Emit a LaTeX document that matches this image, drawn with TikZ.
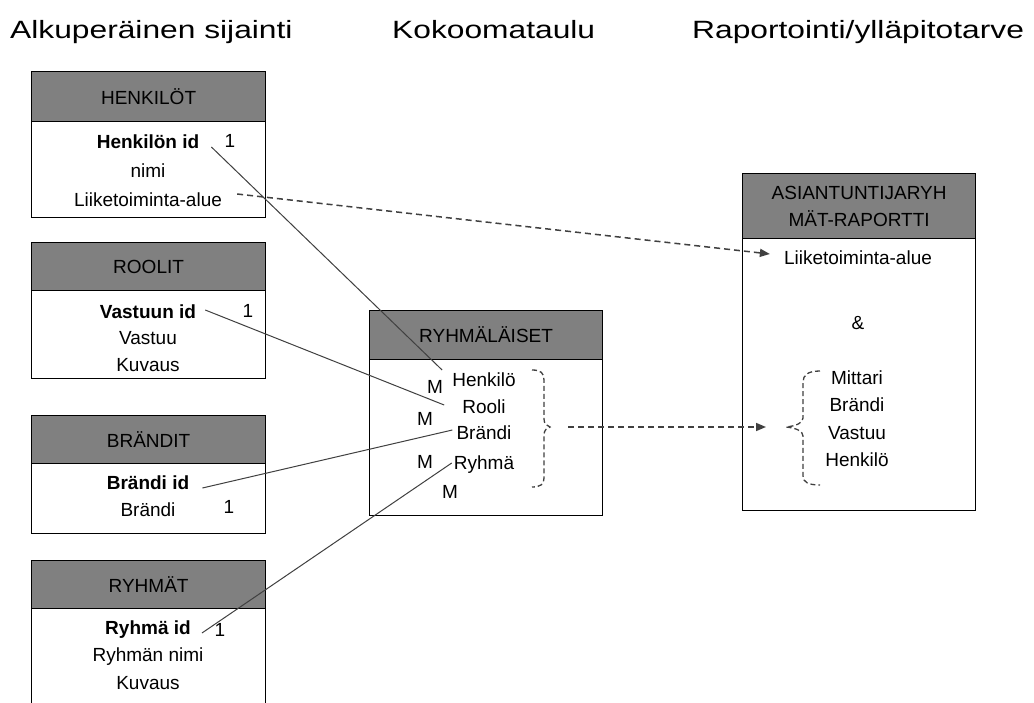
\documentclass[tikz,border=0pt]{standalone}
\usepackage{fontspec}
\setmainfont{Liberation Sans}
\newfontfamily\titlefont{Liberation Sans}[FakeStretch=1.27]
\usetikzlibrary{arrows.meta}
\definecolor{hdr}{HTML}{808080}
\definecolor{lnk}{HTML}{404040}
\begin{document}
\begin{tikzpicture}[x=1pt,y=-1pt,
  txt/.style={font=\fontsize{19}{22}\selectfont, inner sep=2pt},
  bold/.style={font=\fontsize{19}{22}\selectfont\bfseries, inner sep=2pt},
  ttl/.style={font=\titlefont\fontsize{25}{30}\selectfont, inner sep=0pt, anchor=base west},
  hbox/.style={draw=black, fill=hdr, line width=1.2pt, anchor=north west, minimum width=234pt, font=\fontsize{19}{27}\selectfont, align=center, inner sep=0pt},
  bbox/.style={draw=black, fill=white, line width=1.2pt, anchor=north west, minimum width=234pt, inner sep=0pt},
  rel/.style={draw=lnk, line width=1pt},
  flow/.style={draw=lnk, line width=1.5pt, dash pattern=on 6pt off 4pt},
  tip/.style={-{Triangle[length=10pt,width=8pt]}}
]
\useasboundingbox (0,0) rectangle (1034,702);
\clip (0,0) rectangle (1034,702);
\fill[white] (0,0) rectangle (1034,702);

% titles
\node[ttl] (t1) at (10,38) {Alkuperäinen sijainti};
\node[ttl] (t2) at (392,38) {Kokoomataulu};
\node[ttl] (t3) at (692,38) {Raportointi/ylläpitotarve};

% HENKILÖT
\node[bbox, minimum height=96pt] (b1) at (31,121) {};
\node[hbox, minimum height=50pt] (h1) at (31,71) {HENKILÖT};
\node[bold] (hid) at (148,142) {Henkilön id};
\node[txt] (hone) at (230,141) {1};
\node[txt] (hnimi) at (148,171) {nimi};
\node[txt] (hlii) at (148,200) {Liiketoiminta-alue};

% ROOLIT
\node[bbox, minimum height=88pt] (b2) at (31,290) {};
\node[hbox, minimum height=48pt] (h2) at (31,242) {ROOLIT};
\node[bold] (vid) at (148,312) {Vastuun id};
\node[txt] (vone) at (248,311) {1};
\node[txt] (vvas) at (148,338) {Vastuu};
\node[txt] (vkuv) at (148,365) {Kuvaus};

% BRÄNDIT
\node[bbox, minimum height=70pt] (b3) at (31,463) {};
\node[hbox, minimum height=48pt] (h3) at (31,415) {BRÄNDIT};
\node[bold] (bid) at (148,483) {Brändi id};
\node[txt] (bone) at (229,507) {1};
\node[txt] (bbr) at (148,510) {Brändi};

% RYHMÄT
\node[bbox, minimum height=112pt] (b4) at (31,608) {};
\node[hbox, minimum height=48pt] (h4) at (31,560) {RYHMÄT};
\node[bold] (rid) at (148,630) {Ryhmä id};
\node[txt] (rone) at (220,630) {1};
\node[txt] (rnimi) at (148,657) {Ryhmän nimi};
\node[txt] (rkuv) at (148,683) {Kuvaus};

% RYHMÄLÄISET
\node[bbox, minimum width=233pt, minimum height=156pt] (b5) at (369,359) {};
\node[hbox, minimum width=233pt, minimum height=49pt] (h5) at (369,310) {RYHMÄLÄISET};
\node[txt] (mhenk) at (484,380) {Henkilö};
\node[txt] (mrooli) at (484,407) {Rooli};
\node[txt] (mbr) at (484,433) {Brändi};
\node[txt] (mry) at (484,465) {Ryhmä};
\node[txt] (m1) at (435,387) {M};
\node[txt] (m2) at (425,419) {M};
\node[txt] (m3) at (425,462) {M};
\node[txt] (m4) at (450,492) {M};

% ASIANTUNTIJARYHMÄT-RAPORTTI
\node[bbox, minimum width=233pt, minimum height=272pt] (b6) at (742,238) {};
\node[hbox, minimum width=233pt, minimum height=65pt] (h6) at (742,173) {ASIANTUNTIJARYH\\MÄT-RAPORTTI};
\node[txt] (rlii) at (858,258) {Liiketoiminta-alue};
\node[txt] (ramp) at (858,323) {\&};
\node[txt] (rmit) at (857,378) {Mittari};
\node[txt] (rbr) at (857,405) {Brändi};
\node[txt] (rvas) at (857,433) {Vastuu};
\node[txt] (rhenk) at (857,460) {Henkilö};

% relations
\draw[rel] ([shift={(10,5)}]hid.east) -- ([shift={(-8,-10)}]mhenk.west);
\draw[rel] ([shift={(7,-2)}]vid.east) -- ([shift={(-16,-2)}]mrooli.west);
\draw[rel] ([shift={(11,5)}]bid.east) -- ([shift={(-2,-3)}]mbr.west);
\draw[rel] ([shift={(9,3)}]rid.east) -- ([shift={(0,-2)}]mry.west);

% braces
\coordinate (mtip) at (550,427);
\coordinate (rtip) at (786,427);
\draw[flow, line width=1.3pt, dash pattern=on 5pt off 3pt]
  (532,370) .. controls (541,370) and (544,373) .. (544,380) -- (544,419)
  .. controls (544,424) and (547,426) .. (mtip)
  .. controls (547,428) and (544,430) .. (544,435) -- (544,478)
  .. controls (544,484) and (541,487) .. (532,487);
\draw[flow, line width=1.3pt, dash pattern=on 5pt off 3pt]
  (820,371) .. controls (808,371) and (803,375) .. (803,382) -- (803,418)
  .. controls (803,423) and (796,426) .. (rtip)
  .. controls (796,428) and (803,431) .. (803,436) -- (803,476)
  .. controls (803,482) and (808,485) .. (820,485);

% flows
\draw[flow, tip] ([shift={(13,-6)}]hlii.east) -- ([shift={(-12,-4)}]rlii.west);
\draw[flow, tip] ([xshift=18pt]mtip) -- ([xshift=-20pt]rtip);
\end{tikzpicture}
\end{document}
